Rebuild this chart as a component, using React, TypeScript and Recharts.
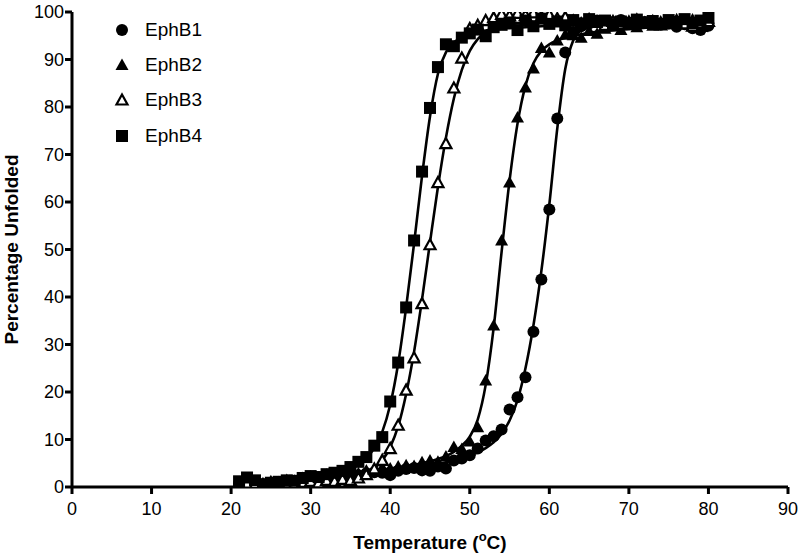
import { ComposedChart, Line, Scatter, XAxis, YAxis, Label } from 'recharts';

const temps = [
  21, 22, 23, 24, 25, 26, 27, 28, 29, 30, 31, 32, 33, 34, 35, 36, 37, 38, 39, 40,
  41, 42, 43, 44, 45, 46, 47, 48, 49, 50, 51, 52, 53, 54, 55, 56, 57, 58, 59, 60,
  61, 62, 63, 64, 65, 66, 67, 68, 69, 70, 71, 72, 73, 74, 75, 76, 77, 78, 79, 80,
];

const ephB1 = [
  0.8, 1.2, 0.6, 0.4, 0.7, 0.9, 1.1, 1.0, 1.4, 1.7, 1.5, 2.0, 2.1, 2.3, 2.6, 2.5, 2.9, 3.1, 3.0, 2.5,
  3.4, 3.8, 4.0, 3.5, 3.4, 4.3, 3.9, 5.6, 6.0, 6.7, 8.1, 9.8, 10.7, 12.1, 16.3, 18.9, 23.1, 32.7, 43.7, 58.4,
  77.6, 91.5, 95.8, 97.0, 97.6, 98.2, 97.4, 97.9, 98.3, 97.6, 97.2, 97.9, 98.1, 97.3, 97.6, 96.9, 97.4, 96.6, 96.2, 97.1,
];

const ephB2 = [
  1.0, 0.5, 0.9, 0.8, 1.2, 1.0, 1.5, 1.3, 1.9, 2.2, 2.0, 2.6, 2.4, 3.0, 3.2, 2.9, 3.5, 3.7, 4.1, 3.9,
  4.3, 4.6, 4.4, 5.2, 5.6, 5.3, 6.4, 8.4, 8.0, 9.6, 12.6, 22.4, 34.0, 51.9, 64.1, 77.8, 84.1, 88.1, 92.4, 91.5,
  94.0, 95.2, 95.1, 94.6, 96.0, 95.4, 96.5, 97.0, 96.2, 97.3, 96.8, 97.6, 97.1, 98.0, 97.4, 98.2, 97.5, 98.4, 97.8, 98.6,
];

const ephB3 = [
  0.3, 0.8, 0.5, 0.2, 0.6, 0.4, 0.9, 0.7, 1.0, 1.2, 0.9, 1.4, 1.2, 1.6, 1.4, 1.9, 2.6, 3.8, 5.6, 8.1,
  13.0, 20.4, 27.2, 38.6, 51.0, 64.1, 72.3, 84.0, 90.3, 96.5, 97.2, 98.2, 98.8, 99.5, 99.2, 99.7, 99.3, 99.8, 99.0, 99.4,
  98.6, 98.9, 98.1, 97.5, 98.4, 97.8, 97.2, 98.0, 97.4, 97.9, 98.3, 97.6, 98.0, 97.3, 97.8, 98.2, 97.5, 97.0, 97.6, 98.0,
];

const ephB4 = [
  1.2, 2.0, 1.4, 0.6, 0.9, 1.1, 1.4, 1.3, 1.9, 2.3, 2.1, 2.7, 3.0, 3.4, 4.2, 5.3, 6.3, 8.7, 10.5, 18.0,
  26.2, 37.8, 51.9, 66.4, 79.8, 88.4, 93.2, 92.8, 94.6, 95.5, 96.3, 94.9, 96.8, 97.3, 97.8, 96.2, 98.2, 97.0, 98.6, 97.5,
  98.0, 97.2, 98.3, 97.6, 98.5, 97.9, 98.2, 97.4, 98.0, 97.7, 98.4, 97.8, 98.1, 97.5, 98.3, 97.9, 98.5, 97.6, 98.2, 98.8,
];

// fitted curves at these temperatures
const fitTemps = [
  21, 25, 30, 33, 35, 36, 37, 38, 39, 40, 41, 42, 43, 44, 45, 46, 47, 48, 49, 50,
  51, 52, 53, 54, 55, 56, 57, 58, 59, 60, 61, 62, 63, 64, 65, 70, 75, 80,
];
const fitB1 = [
  0.2, 0.8, 1.6, 2.1, 2.4, 2.6, 2.8, 3.0, 3.2, 3.4, 3.6, 3.8, 4.0, 4.3, 4.6, 4.9, 5.2, 5.6, 6.0, 6.6,
  7.3, 8.2, 9.4, 11.2, 14.0, 18.3, 25.0, 34.0, 45.5, 59.5, 75.5, 88.0, 94.0, 96.2, 97.0, 97.6, 97.2, 96.0,
];
const fitB2 = [
  0.2, 0.9, 1.9, 2.5, 2.9, 3.1, 3.3, 3.5, 3.7, 3.9, 4.1, 4.4, 4.7, 5.0, 5.4, 5.9, 6.5, 7.4, 8.7, 10.6,
  14.2, 21.5, 33.5, 49.5, 64.5, 76.5, 84.5, 89.2, 91.8, 93.2, 94.0, 94.6, 95.0, 95.3, 95.6, 96.4, 97.0, 97.4,
];
const fitB3 = [
  0.1, 0.4, 0.9, 1.3, 1.7, 2.1, 2.8, 3.9, 5.6, 8.4, 12.8, 19.6, 28.5, 39.5, 51.5, 63.2, 73.5, 81.8, 87.8, 91.8,
  94.3, 95.8, 96.7, 97.2, 97.5, 97.7, 97.8, 97.9, 98.0, 98.0, 98.0, 98.0, 98.0, 98.0, 98.0, 98.0, 98.0, 98.0,
];
const fitB4 = [
  0.3, 0.9, 1.9, 2.8, 3.8, 4.7, 6.1, 8.2, 11.6, 17.3, 26.0, 37.8, 51.3, 65.5, 78.0, 87.0, 91.5, 93.6, 94.6, 95.4,
  95.8, 96.1, 96.3, 96.5, 96.6, 96.7, 96.8, 96.9, 97.0, 97.1, 97.2, 97.2, 97.3, 97.4, 97.4, 97.7, 98.0, 98.2,
];

const seriesNames = ['EphB1', 'EphB2', 'EphB3', 'EphB4'];
const xTicks = [0, 10, 20, 30, 40, 50, 60, 70, 80, 90];
const yTicks = [0, 10, 20, 30, 40, 50, 60, 70, 80, 90, 100];

const toPoints = (ys: number[]) => temps.map((t, i) => ({ t, v: ys[i] }));

const fitData = fitTemps.map((t, i) => ({
  t,
  b1: fitB1[i],
  b2: fitB2[i],
  b3: fitB3[i],
  b4: fitB4[i],
}));

const FONT = '"Liberation Sans", Arial, sans-serif';

const Circle = (p: any) => <circle cx={p.cx} cy={p.cy} r={6} fill="#000" />;
const Tri = (p: any) => (
  <polygon points={`${p.cx},${p.cy - 6.5} ${p.cx - 6.5},${p.cy + 5} ${p.cx + 6.5},${p.cy + 5}`} fill="#000" />
);
const OpenTri = (p: any) => (
  <polygon
    points={`${p.cx},${p.cy - 5.5} ${p.cx - 5.5},${p.cy + 4.5} ${p.cx + 5.5},${p.cy + 4.5}`}
    fill="#fff"
    stroke="#000"
    strokeWidth={2.2}
  />
);
const Square = (p: any) => <rect x={p.cx - 6} y={p.cy - 6} width={12} height={12} fill="#000" />;

const shapes = [Circle, Tri, OpenTri, Square];

function LegendIcon({ idx }: { idx: number }) {
  const S = shapes[idx];
  return (
    <svg width={16} height={16} style={{ display: 'block' }}>
      <S cx={8} cy={8} />
    </svg>
  );
}

export default function App() {
  const axisLine = { stroke: '#000', strokeWidth: 3 };
  const tickLine = { stroke: '#000', strokeWidth: 3 };
  const tick = { fill: '#000', fontSize: 18, fontFamily: FONT };

  return (
    <div style={{ position: 'absolute', left: 0, top: 0, width: 801, height: 554, background: '#fff' }}>
      <ComposedChart
        width={801}
        height={554}
        data={fitData}
        margin={{ top: 12, right: 13, left: 0, bottom: 0 }}
      >
        <XAxis
          type="number"
          dataKey="t"
          domain={[0, 90]}
          ticks={xTicks}
          allowDataOverflow
          axisLine={axisLine}
          tickLine={tickLine}
          tickSize={7}
          tickMargin={8}
          tick={tick}
          height={67}
        >
          <Label
            content={(props: any) => {
              const vb = props.viewBox;
              return (
                <text
                  x={vb.x + vb.width / 2}
                  y={vb.y + 62}
                  textAnchor="middle"
                  fontFamily={FONT}
                  fontWeight="bold"
                  fontSize={19}
                  fill="#000"
                >
                  Temperature (<tspan dy={-8} fontSize={13}>o</tspan>
                  <tspan dy={8}>C)</tspan>
                </text>
              );
            }}
          />
        </XAxis>
        <YAxis
          type="number"
          domain={[0, 100]}
          ticks={yTicks}
          allowDataOverflow
          axisLine={axisLine}
          tickLine={tickLine}
          tickSize={7}
          tickMargin={1}
          tick={tick}
          width={72}
        >
          <Label
            content={(props: any) => {
              const vb = props.viewBox;
              const cx = vb.x + 18;
              const cy = vb.y + vb.height / 2;
              return (
                <text
                  x={cx}
                  y={cy}
                  transform={`rotate(-90 ${cx} ${cy})`}
                  textAnchor="middle"
                  fontFamily={FONT}
                  fontWeight="bold"
                  fontSize={19}
                  fill="#000"
                >
                  Percentage Unfolded
                </text>
              );
            }}
          />
        </YAxis>
        <Line type="monotone" dataKey="b1" stroke="#000" strokeWidth={2.6} dot={false} isAnimationActive={false} />
        <Line type="monotone" dataKey="b2" stroke="#000" strokeWidth={2.6} dot={false} isAnimationActive={false} />
        <Line type="monotone" dataKey="b3" stroke="#000" strokeWidth={2.6} dot={false} isAnimationActive={false} />
        <Line type="monotone" dataKey="b4" stroke="#000" strokeWidth={2.6} dot={false} isAnimationActive={false} />
        <Scatter name="EphB1" data={toPoints(ephB1)} dataKey="v" shape={Circle} isAnimationActive={false} />
        <Scatter name="EphB2" data={toPoints(ephB2)} dataKey="v" shape={Tri} isAnimationActive={false} />
        <Scatter name="EphB3" data={toPoints(ephB3)} dataKey="v" shape={OpenTri} isAnimationActive={false} />
        <Scatter name="EphB4" data={toPoints(ephB4)} dataKey="v" shape={Square} isAnimationActive={false} />
      </ComposedChart>
      <div style={{ position: 'absolute', left: 114, top: 12, fontFamily: FONT, fontSize: 19, color: '#000' }}>
        {seriesNames.map((n, i) => (
          <div key={n} style={{ display: 'flex', alignItems: 'center', height: 35.4 }}>
            <LegendIcon idx={i} />
            <span style={{ marginLeft: 15 }}>{n}</span>
          </div>
        ))}
      </div>
    </div>
  );
}
